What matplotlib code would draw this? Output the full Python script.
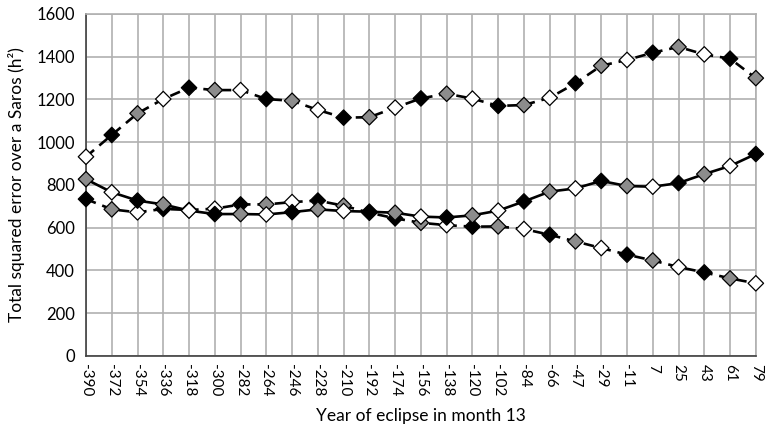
import numpy as np
import matplotlib.pyplot as plt

plt.rcParams['font.family'] = ['Lato', 'DejaVu Sans']

years = ['-390', '-372', '-354', '-336', '-318', '-300', '-282', '-264', '-246',
         '-228', '-210', '-192', '-174', '-156', '-138', '-120', '-102', '-84',
         '-66', '-47', '-29', '-11', '7', '25', '43', '61', '79']

# upper dashed series
upper = [932, 1034, 1135, 1202, 1255, 1244, 1244, 1202, 1194,
         1151, 1115, 1117, 1162, 1205, 1227, 1204, 1170, 1174,
         1208, 1276, 1358, 1385, 1419, 1446, 1411, 1391, 1300]
# solid series
middle = [827, 766, 727, 709, 680, 664, 664, 662, 673,
          686, 678, 675, 670, 652, 648, 658, 680, 723,
          769, 784, 819, 795, 792, 809, 851, 889, 945]
# lower dashed series
lower = [734, 686, 672, 688, 683, 689, 709, 709, 720,
         727, 703, 670, 644, 623, 612, 605, 606, 594,
         567, 536, 505, 474, 447, 416, 391, 363, 340]

fills = ['white', 'black', '#8c8c8c']   # marker fill cycle

fig = plt.figure(figsize=(7.65, 4.32), dpi=100)
ax = fig.add_axes([0.1124, 0.176, 0.8756, 0.7916])

x = np.arange(len(years))


def draw(vals, ls, start, z):
    ax.plot(x, vals, color='black', lw=1.9, ls=ls, zorder=z, clip_on=False,
            dashes=(4, 2.6) if ls == '--' else (None, None))
    cols = [fills[(i + start) % 3] for i in range(len(vals))]
    ax.scatter(x, vals, marker='D', s=62, c=cols, edgecolors='black',
               linewidths=0.9, zorder=z + 0.5, clip_on=False)


draw(upper, '--', 0, 3)
draw(lower, '--', 1, 4)
draw(middle, '-', 2, 5)

ax.set_xlim(0, len(years) - 1)
ax.set_ylim(0, 1600)
ax.set_yticks(range(0, 1601, 200))
ax.set_xticks(x)
ax.set_xticklabels(years, rotation=270, fontsize=11)
ax.tick_params(axis='y', labelsize=12, length=0, pad=8)
ax.tick_params(axis='x', length=0, pad=6)

ax.grid(True, color='#b0b0b0', lw=1.2)
ax.set_axisbelow(True)
for s in ['top', 'right']:
    ax.spines[s].set_color('#b0b0b0')
    ax.spines[s].set_linewidth(1.2)
for s in ['left', 'bottom']:
    ax.spines[s].set_color('#404040')
    ax.spines[s].set_linewidth(1.2)

ax.set_xlabel('Year of eclipse in month 13', fontsize=12.5, labelpad=8)
ax.set_ylabel('Total squared error over a Saros (h²)', fontsize=12.5, labelpad=8)

fig.savefig('out.png', dpi=100)
